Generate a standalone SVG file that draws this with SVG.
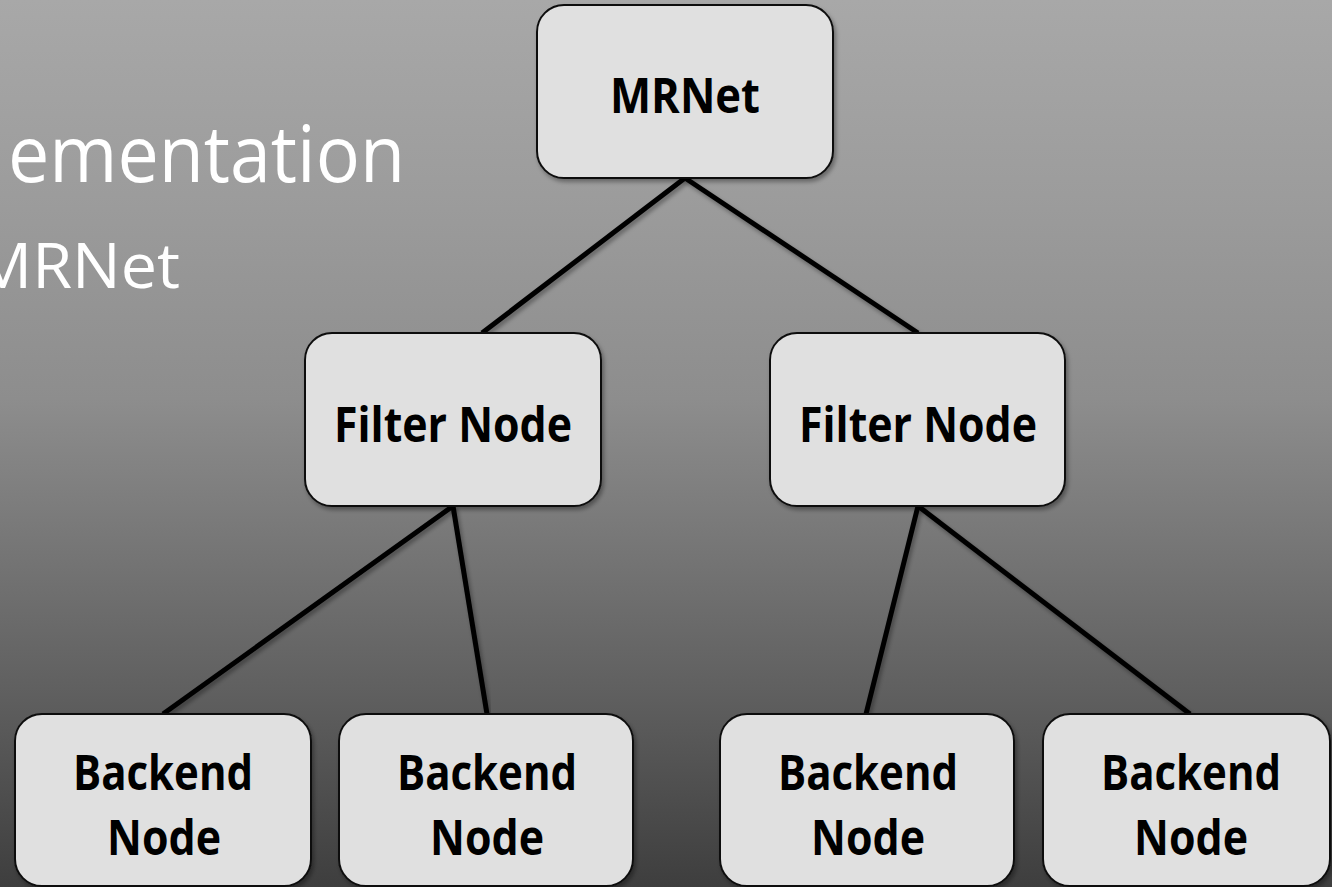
<svg xmlns="http://www.w3.org/2000/svg" width="1332" height="887" viewBox="0 0 1332 887">
  <defs>
    <linearGradient id="bg" x1="0" y1="0" x2="0" y2="1">
      <stop offset="0" stop-color="#a8a8a8"/>
      <stop offset="0.22" stop-color="#9c9c9c"/>
      <stop offset="0.45" stop-color="#8d8d8d"/>
      <stop offset="0.79" stop-color="#5e5e5e"/>
      <stop offset="1" stop-color="#3e3e3e"/>
    </linearGradient>
    <filter id="sh" x="-10%" y="-10%" width="120%" height="130%">
      <feDropShadow dx="2" dy="3" stdDeviation="2" flood-color="#000" flood-opacity="0.35"/>
    </filter>
  </defs>
  <style>
    .box { fill: #e0e0e0; stroke: #111; stroke-width: 2; filter: url(#sh); }
    .lbl { font-family: "Open Sans", "Liberation Sans", sans-serif; font-weight: bold; font-size: 49px; fill: #000; text-anchor: middle; }
    .title { font-family: "Open Sans", "Liberation Sans", sans-serif; fill: #fff; }
    .conn line { stroke: #000; stroke-width: 5; stroke-linecap: butt; filter: url(#sh); }
  </style>
  <rect x="0" y="0" width="1332" height="887" fill="url(#bg)"/>

  <text class="title" x="8" y="182" font-size="78" textLength="397" lengthAdjust="spacingAndGlyphs">ementation</text>
  <text class="title" x="-26" y="288" font-size="62" textLength="206" lengthAdjust="spacingAndGlyphs">MRNet</text>

  <g id="connectors" class="conn">
    <line x1="685" y1="178" x2="482" y2="333"/>
    <line x1="685" y1="178" x2="918" y2="333"/>
    <line x1="453" y1="506" x2="163" y2="714"/>
    <line x1="453" y1="506" x2="487" y2="714"/>
    <line x1="918" y1="506" x2="866" y2="714"/>
    <line x1="918" y1="506" x2="1190" y2="714"/>
  </g>

  <g id="mrnet">
    <rect class="box" x="537" y="5" width="296" height="173" rx="27"/>
    <text class="lbl" x="685" y="113" textLength="150" lengthAdjust="spacingAndGlyphs">MRNet</text>
  </g>
  <g id="filter1">
    <rect class="box" x="305" y="333" width="296" height="173" rx="27"/>
    <text class="lbl" x="453" y="442" textLength="238" lengthAdjust="spacingAndGlyphs">Filter Node</text>
  </g>
  <g id="filter2">
    <rect class="box" x="770" y="333" width="295" height="173" rx="27"/>
    <text class="lbl" x="918" y="442" textLength="238" lengthAdjust="spacingAndGlyphs">Filter Node</text>
  </g>
  <g id="backend1">
    <rect class="box" x="15" y="714" width="296" height="172" rx="27"/>
    <text class="lbl" x="163" y="790" textLength="180" lengthAdjust="spacingAndGlyphs">Backend</text>
    <text class="lbl" x="164" y="855" textLength="114" lengthAdjust="spacingAndGlyphs">Node</text>
  </g>
  <g id="backend2">
    <rect class="box" x="339" y="714" width="294" height="172" rx="27"/>
    <text class="lbl" x="487" y="790" textLength="180" lengthAdjust="spacingAndGlyphs">Backend</text>
    <text class="lbl" x="487" y="855" textLength="114" lengthAdjust="spacingAndGlyphs">Node</text>
  </g>
  <g id="backend3">
    <rect class="box" x="720" y="714" width="294" height="172" rx="27"/>
    <text class="lbl" x="868" y="790" textLength="180" lengthAdjust="spacingAndGlyphs">Backend</text>
    <text class="lbl" x="868" y="855" textLength="114" lengthAdjust="spacingAndGlyphs">Node</text>
  </g>
  <g id="backend4">
    <rect class="box" x="1043" y="714" width="287" height="172" rx="27"/>
    <text class="lbl" x="1191" y="790" textLength="180" lengthAdjust="spacingAndGlyphs">Backend</text>
    <text class="lbl" x="1191" y="855" textLength="114" lengthAdjust="spacingAndGlyphs">Node</text>
  </g>
</svg>
